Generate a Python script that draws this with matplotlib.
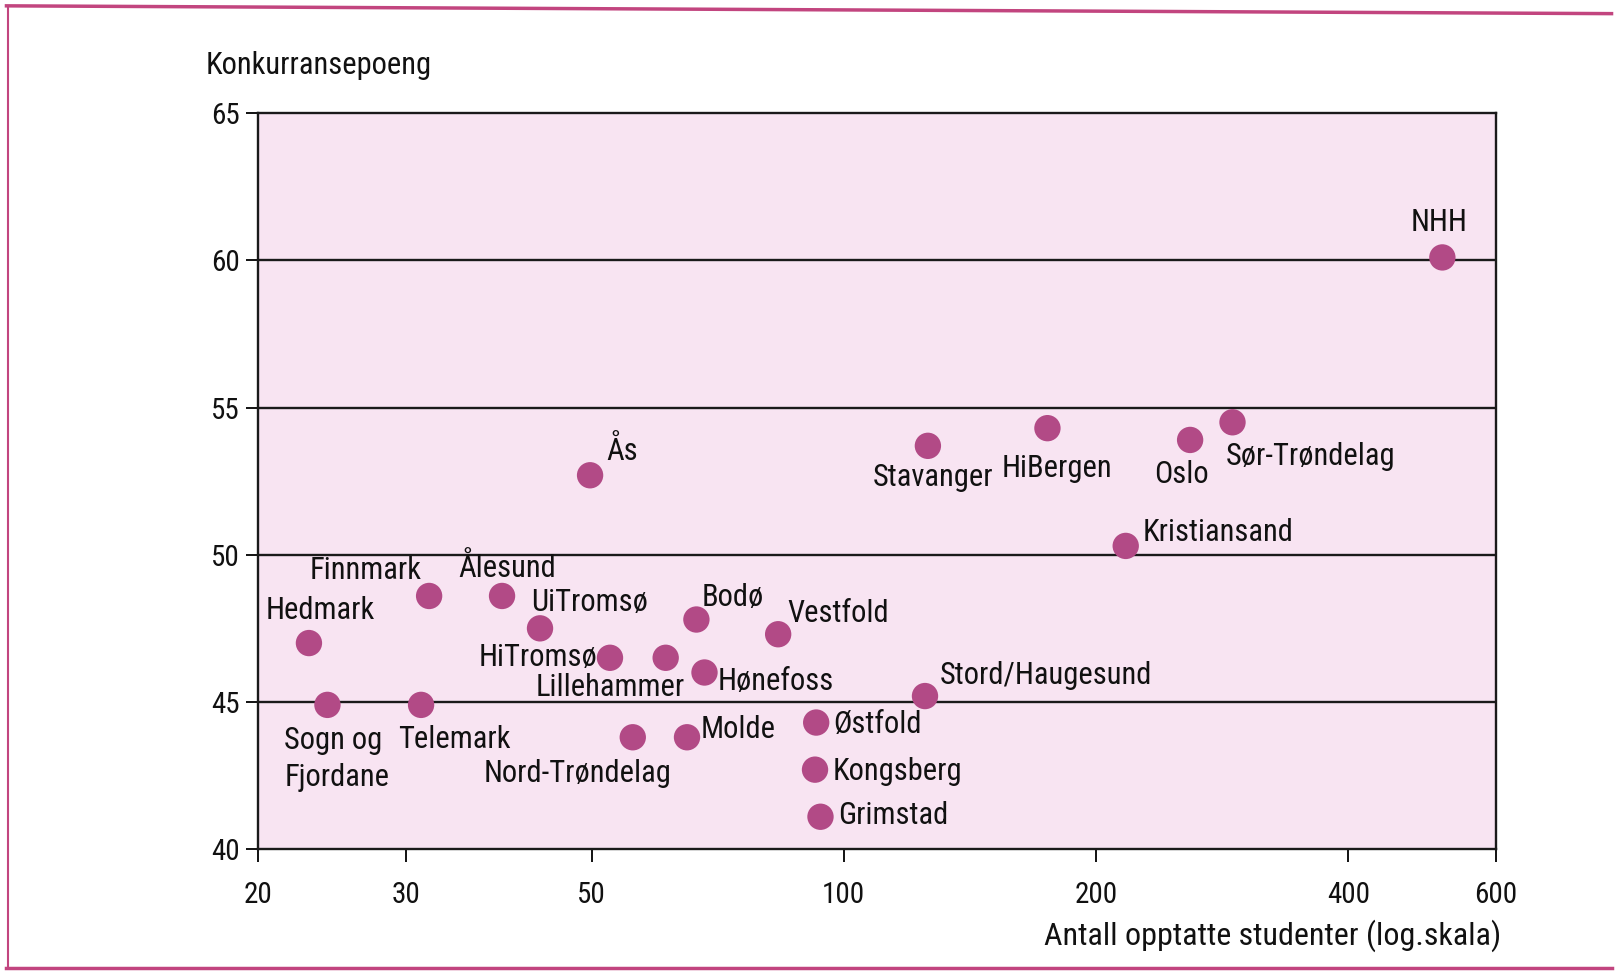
#! /usr/bin/python3
"""Konkurransepoeng mot antall opptatte studenter (log-skala), gjenskapt med matplotlib."""
import matplotlib
matplotlib.use("Agg")
import matplotlib.pyplot as plt
from matplotlib import font_manager
from matplotlib.lines import Line2D

# Data
schools = ['Hedmark', 'Sogn og\nFjordane', 'Finnmark', 'Telemark', 'Ålesund', 'UiTromsø',
           'Ås', 'HiTromsø', 'Lillehammer', 'Bodø', 'Hønefoss', 'Vestfold',
           'Nord-Trøndelag', 'Molde', 'Østfold', 'Kongsberg', 'Grimstad',
           'Stord/Haugesund', 'Stavanger', 'HiBergen', 'Oslo', 'Sør-Trøndelag',
           'Kristiansand', 'NHH']
students = [23.0, 24.2, 32.0, 31.3, 39.1, 43.4,
            49.8, 52.6, 61.3, 66.7, 68.2, 83.5,
            56.0, 65.0, 92.7, 92.4, 93.8,
            125, 126, 175, 259, 291,
            217, 518]
points = [47.0, 44.9, 48.6, 44.9, 48.6, 47.5,
          52.7, 46.5, 46.5, 47.8, 46.0, 47.3,
          43.8, 43.8, 44.3, 42.7, 41.1,
          45.2, 53.7, 54.3, 53.9, 54.5,
          50.3, 60.1]

xticks = [20, 30, 50, 100, 200, 400, 600]
yticks = [40, 45, 50, 55, 60, 65]

# Label placement: (dx, dy) in pixels from the dot, and horizontal alignment
label_pos = {
    'Hedmark': (11, 33, 'center'),
    'Sogn og\nFjordane': (-43, -54, 'left'),
    'Finnmark': (-7, 25, 'right'),
    'Telemark': (-23, -35, 'left'),
    'Ålesund': (5, 28, 'center'),
    'UiTromsø': (-9, 26, 'left'),
    'Ås': (16, 24, 'left'),
    'HiTromsø': (-13, 0, 'right'),
    'Lillehammer': (19, -30, 'right'),
    'Bodø': (5, 22, 'left'),
    'Hønefoss': (13, -9, 'left'),
    'Vestfold': (9, 21, 'left'),
    'Nord-Trøndelag': (39, -36, 'right'),
    'Molde': (14, 8, 'left'),
    'Østfold': (17, -2, 'left'),
    'Kongsberg': (18, -2, 'left'),
    'Grimstad': (18, 1, 'left'),
    'Stord/Haugesund': (15, 21, 'left'),
    'Stavanger': (5, -32, 'center'),
    'HiBergen': (10, -40, 'center'),
    'Oslo': (-9, -35, 'center'),
    'Sør-Trøndelag': (-7, -34, 'left'),
    'Kristiansand': (17, 13, 'left'),
    'NHH': (-3, 35, 'center'),
}


def pick_narrow_font():
    # The original uses a condensed face; take the first narrow sans that is installed
    order = ['Liberation Sans Narrow', 'Roboto Condensed', 'Open Sans', 'Noto Sans',
             'DejaVu Sans', 'Lato', 'Inter']
    found = []
    for f in font_manager.fontManager.ttflist:
        if f.style != 'normal' or f.weight not in (400, 'normal', 'regular'):
            continue
        if 'Mono' in f.name or 'Serif' in f.name:
            continue
        narrow = f.stretch in ('condensed', 'semi-condensed') or 'Narrow' in f.name \
            or 'Condensed' in f.name
        if narrow:
            found.append(f)
    for name in order:
        for f in found:
            if f.name == name:
                return font_manager.FontProperties(fname=f.fname)
    if found:
        return font_manager.FontProperties(fname=found[0].fname)
    return font_manager.FontProperties(family=['Lato', 'DejaVu Sans'])


fp = pick_narrow_font()

fig = plt.figure(figsize=(16.18, 9.74), dpi=100)
fig.patch.set_facecolor('white')
ax = fig.add_axes([0.1595, 0.1282, 0.765, 0.7556])
ax.set_facecolor('#f8e4f2')

ax.set_xscale('log')
ax.set_xlim(20, 600)
ax.set_ylim(40, 65)

# Horizontal grid lines
for y in yticks[1:-1]:
    ax.axhline(y, color='#1a1a1a', lw=1.7, zorder=1)

ax.scatter(students, points, s=360, color='#b24a86', edgecolor='none', zorder=3)

for name, x, y in zip(schools, students, points):
    dx, dy, ha = label_pos[name]
    ax.annotate(name, (x, y), xytext=(dx, dy), textcoords='offset pixels',
                ha=ha, va='center', fontproperties=fp, fontsize=22, color='#111111',
                linespacing=1.35, zorder=4)

ax.set_xticks(xticks)
ax.set_xticklabels([str(t) for t in xticks])
ax.xaxis.set_minor_locator(matplotlib.ticker.NullLocator())
ax.set_yticks(yticks)
ax.tick_params(axis='both', direction='out', length=9, width=1.4, colors='#111111')
ax.tick_params(axis='x', pad=14)
ax.tick_params(axis='y', pad=4)
for lab in ax.get_xticklabels() + ax.get_yticklabels():
    lab.set_fontproperties(fp)
    lab.set_fontsize(21)
for side in ['left', 'right', 'top', 'bottom']:
    ax.spines[side].set_linewidth(1.7)
    ax.spines[side].set_color('#1a1a1a')

fig.text(0.127, 0.933, 'Konkurransepoeng', fontproperties=fp, fontsize=22,
         ha='left', va='center', color='#111111')
fig.text(0.928, 0.039, 'Antall opptatte studenter (log.skala)', fontproperties=fp,
         fontsize=23, ha='right', va='center', color='#111111')

# Page frame from the scan
frame = '#c2457f'
fig.add_artist(Line2D([0.004, 0.996], [0.994, 0.986], color=frame, lw=2.5, transform=fig.transFigure))
fig.add_artist(Line2D([0.004, 0.996], [0.006, 0.006], color=frame, lw=2.5, transform=fig.transFigure))
fig.add_artist(Line2D([0.005, 0.005], [0.006, 0.994], color=frame, lw=1.5, transform=fig.transFigure))

fig.savefig('out.png', dpi=100)
